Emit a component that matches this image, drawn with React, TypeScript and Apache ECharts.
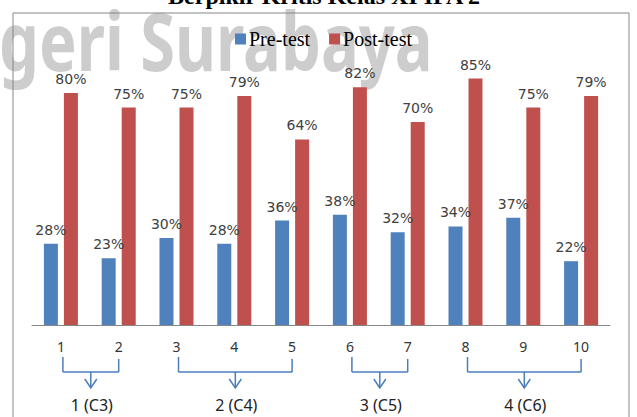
import { useEffect, useRef } from "react";
import * as echarts from "echarts";

// Question numbers on the x axis
const categories = ["1", "2", "3", "4", "5", "6", "7", "8", "9", "10"];
// Scores in percent
const preTest = [28, 23, 30, 28, 36, 38, 32, 34, 37, 22];
const postTest = [80, 75, 75, 79, 64, 82, 70, 85, 75, 79];

// Indicator groups spanning question ranges (indices into categories)
const groupLabels = ["1 (C3)", "2 (C4)", "3 (C5)", "4 (C6)"];
const groupStart = [0, 2, 5, 7];
const groupEnd = [1, 4, 6, 9];

const titleText = "Berpikir Kritis Kelas XI IPA 2";
const watermarkText = "geri Surabaya";

const BLUE = "#4f81bd";
const RED = "#c0504d";
const LINE_BLUE = "#4a7ebb";

export default function App() {
  const ref = useRef<HTMLDivElement>(null);

  useEffect(() => {
    if (!ref.current) return;
    const chart = echarts.init(ref.current, undefined, { renderer: "svg" });

    const labelStyle = {
      show: true,
      position: "top" as const,
      distance: 7,
      formatter: "{c}%",
      fontFamily: "'DejaVu Sans', Verdana, sans-serif",
      fontSize: 14,
      color: "#404040",
    };

    chart.setOption({
      animation: false,
      backgroundColor: "#ffffff",
      legend: {
        data: ["Pre-test", "Post-test"],
        left: 235,
        top: 29,
        padding: 0,
        itemWidth: 11,
        itemHeight: 11,
        itemGap: 19,
        icon: "rect",
        textStyle: {
          fontFamily: "Liberation Serif",
          fontSize: 20,
          color: "#000000",
          padding: [0, 0, 0, -2],
        },
      },
      grid: { left: 32, right: 27, top: 35, bottom: 92 },
      xAxis: {
        type: "category",
        data: categories,
        axisLine: { lineStyle: { color: "#868686", width: 1 } },
        axisTick: { show: false },
        axisLabel: {
          interval: 0,
          margin: 14,
          fontFamily: "Noto Sans",
          fontSize: 14,
          color: "#333333",
        },
      },
      yAxis: { type: "value", min: 0, max: 100, show: false },
      series: [
        {
          name: "Pre-test",
          type: "bar",
          data: preTest,
          barWidth: 14,
          barGap: "43%",
          itemStyle: { color: BLUE },
          label: labelStyle,
          z: 3,
        },
        {
          name: "Post-test",
          type: "bar",
          data: postTest,
          barWidth: 14,
          itemStyle: { color: RED },
          label: labelStyle,
          z: 3,
        },
      ],
    });

    // Bracket annotations under the axis, placed from the category scale
    const px = (i: number) =>
      chart.convertToPixel({ xAxisIndex: 0 }, categories[i]) as number;
    const lineStyle = { stroke: LINE_BLUE, lineWidth: 1.5, fill: "none" };
    const brackets: any[] = [];
    groupLabels.forEach((label, g) => {
      const x1 = px(groupStart[g]) + 2;
      const x2 = px(groupEnd[g]);
      const mid = (x1 + x2) / 2;
      brackets.push(
        { type: "line", shape: { x1, y1: 357, x2: x1, y2: 372 }, style: lineStyle, silent: true },
        { type: "line", shape: { x1: x2, y1: 359, x2, y2: 372 }, style: lineStyle, silent: true },
        { type: "line", shape: { x1, y1: 372, x2, y2: 372 }, style: lineStyle, silent: true },
        { type: "line", shape: { x1: mid, y1: 372, x2: mid, y2: 388 }, style: lineStyle, silent: true },
        {
          type: "polyline",
          shape: { points: [[mid - 6, 379], [mid, 388], [mid + 6, 379]] },
          style: lineStyle,
          silent: true,
        },
        {
          type: "text",
          x: mid + 1,
          y: 405,
          style: {
            text: label,
            fontFamily: "Noto Sans",
            fontSize: 16,
            fill: "#222222",
            align: "center",
            verticalAlign: "middle",
          },
          silent: true,
        }
      );
    });

    chart.setOption({
      graphic: [
        {
          type: "text",
          x: -1,
          y: 40,
          scaleX: 0.79,
          z: -10,
          style: {
            text: watermarkText,
            fontFamily: "Noto Sans",
            fontWeight: "bold",
            fontSize: 80,
            fill: "#cdcdcd",
            align: "left",
            verticalAlign: "middle",
          },
          silent: true,
        },
        {
          type: "text",
          x: 324,
          y: -4,
          style: {
            text: titleText,
            fontFamily: "Liberation Serif",
            fontWeight: "bold",
            fontSize: 24,
            fill: "#000000",
            align: "center",
            verticalAlign: "middle",
          },
          silent: true,
        },
        {
          type: "rect",
          shape: { x: 13, y: 13, width: 616, height: 420 },
          style: { fill: "none", stroke: "#868686", lineWidth: 1 },
          z: 10,
          silent: true,
        },
        ...brackets,
      ],
    });

    return () => chart.dispose();
  }, []);

  return (
    <div
      ref={ref}
      style={{ position: "fixed", left: 0, top: 0, width: 637, height: 417 }}
    />
  );
}
